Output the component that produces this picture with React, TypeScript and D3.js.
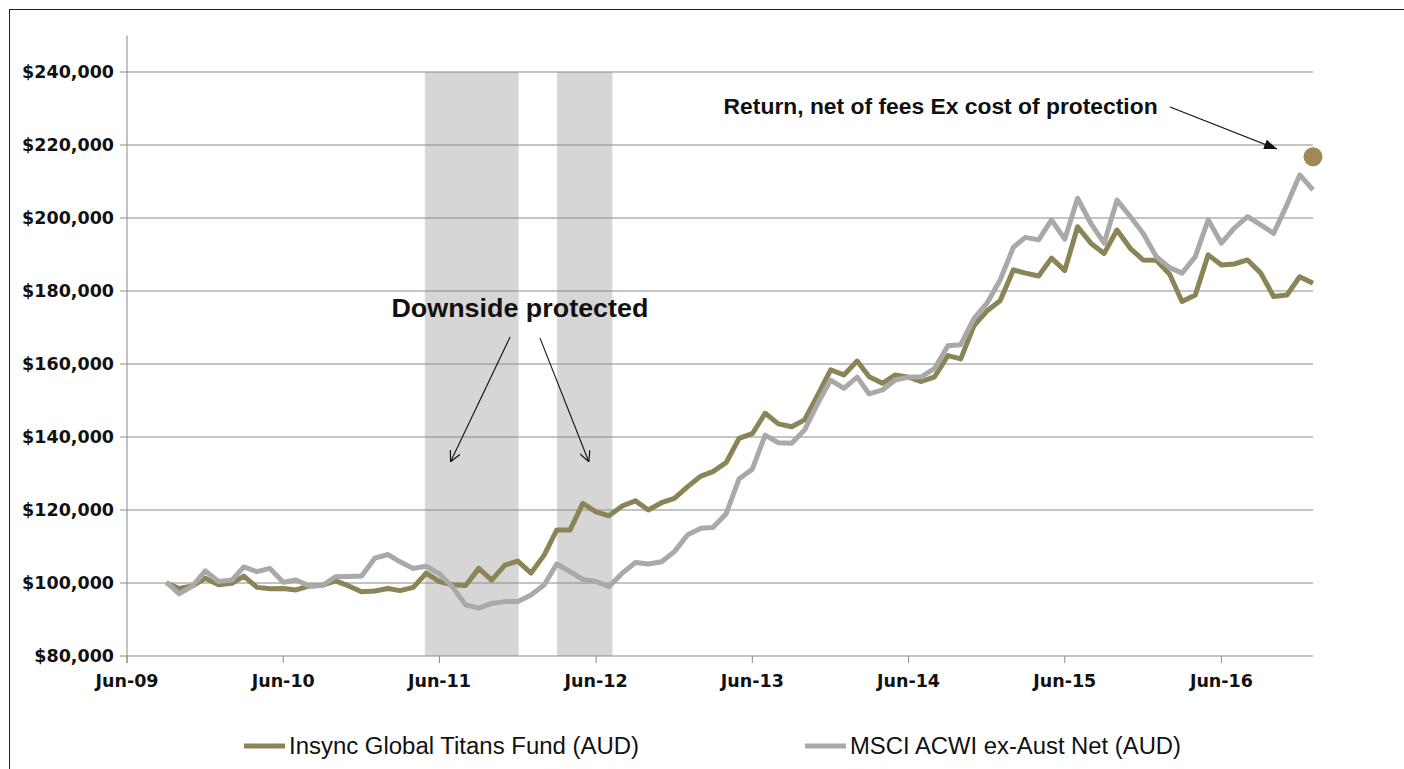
import React from "react";
import * as d3 from "d3";

// monthly values, first point Sep-09
const firstMonth = "2009-09-01";

// Insync Global Titans Fund (AUD), growth of $100,000 (in $000)
const fundValues = [
	100.0, 98.5, 99.2, 101.3, 99.5, 99.9, 101.9, 98.8, 98.4, 98.5, 98.1, 99.2, 99.4, 100.6, 99.2, 97.6,
	97.8, 98.5, 97.9, 98.8, 102.7, 100.4, 99.5, 99.3, 104.0, 100.8, 104.9, 106.0, 102.7, 107.7, 114.5,
	114.5, 121.8, 119.5, 118.4, 121.1, 122.5, 120.0, 122.0, 123.2, 126.4, 129.3, 130.5, 133.0, 139.6,
	140.9, 146.5, 143.6, 142.8, 144.7, 151.5, 158.4, 157.0, 160.8, 156.5, 154.7, 157.0, 156.4, 155.2,
	156.5, 162.3, 161.4, 170.5, 174.5, 177.3, 185.8, 184.9, 184.1, 189.0, 185.6, 197.6, 193.1, 190.3,
	196.7, 191.7, 188.5, 188.4, 184.6, 177.1, 178.9, 189.9, 187.1, 187.4, 188.5, 184.9, 178.5, 178.9,
	183.9, 182.1,
];

// MSCI ACWI ex-Aust Net (AUD) (in $000)
const msciValues = [
	100.2, 97.0, 99.2, 103.3, 100.4, 100.8, 104.4, 103.1, 104.0, 100.2, 100.8, 99.2, 99.3, 101.7, 101.8,
	101.9, 106.8, 107.8, 105.8, 104.0, 104.6, 102.5, 99.0, 94.0, 93.1, 94.4, 94.9, 94.9, 96.7, 99.5,
	105.2, 103.1, 101.0, 100.4, 99.0, 102.7, 105.6, 105.2, 105.8, 108.6, 113.2, 115.0, 115.2, 119.0,
	128.5, 131.2, 140.5, 138.4, 138.3, 141.9, 149.2, 155.6, 153.3, 156.4, 151.8, 152.9, 155.6, 156.4,
	156.5, 158.8, 165.0, 165.3, 172.5, 176.6, 183.0, 192.0, 194.7, 194.0, 199.5, 194.2, 205.4, 198.5,
	193.1, 204.9, 200.4, 195.8, 189.4, 186.4, 184.9, 189.4, 199.5, 193.1, 197.2, 200.4, 198.1, 195.8,
	203.6, 211.8, 207.7,
];

const seriesNames = ["Insync Global Titans Fund (AUD)", "MSCI ACWI ex-Aust Net (AUD)"];

// shaded "downside protected" periods
const protectedPeriods = [
	["2011-04-28", "2011-12-03"],
	["2012-03-02", "2012-07-09"],
];

// return ex cost of protection (in $000)
const exCostPoint = {date: "2017-01-01", value: 216.8};

const yTickValues = [80, 100, 120, 140, 160, 180, 200, 220, 240];
const xTickYears = [2009, 2010, 2011, 2012, 2013, 2014, 2015, 2016];

// annotation anchors in data space
const downsideLabel = {date: "2011-12-06", value: 172.8, text: "Downside protected"};
const downsideArrows = [
	{from: ["2011-11-13", 167.4], to: ["2011-06-27", 133.2]},
	{from: ["2012-01-22", 167.1], to: ["2012-05-15", 133.2]},
];
const returnLabel = {date: "2016-01-04", value: 228.6, text: "Return, net of fees Ex cost of protection"};
const returnArrow = {from: ["2016-02-02", 230.4], to: ["2016-10-09", 218.9]};

const W = 1404;
const H = 769;
const margin = {left: 127, right: 91, top: 35.5, bottom: 113};

const OLIVE = "#8a8456";
const GREY = "#a9a9a9";
const AXIS = "#8a8a8a";

const parse = (s: string) => new Date(s + "T00:00:00Z");

export default function App() {
	const start = parse(firstMonth);
	const fund = fundValues.map((v, i) => ({date: d3.utcMonth.offset(start, i), value: v}));
	const msci = msciValues.map((v, i) => ({date: d3.utcMonth.offset(start, i), value: v}));

	const x = d3
		.scaleUtc()
		.domain([parse("2009-06-01"), parse("2017-01-01")])
		.range([margin.left, W - margin.right]);
	const y = d3
		.scaleLinear()
		.domain([80, 250])
		.range([H - margin.bottom, margin.top]);

	const line = d3
		.line<{date: Date; value: number}>()
		.x((d) => x(d.date))
		.y((d) => y(d.value));

	const fmtX = d3.utcFormat("%b-%y");
	const fmtY = (v: number) => "$" + d3.format(",")(v * 1000);
	const x0 = x.range()[0];
	const x1 = x.range()[1];
	const yBottom = y(80);

	const pt = (p: any[]) => [x(parse(p[0])), y(p[1])];

	return (
		<svg
			width={W}
			height={H}
			style={{position: "absolute", left: 0, top: 0, background: "#fff"}}
			fontFamily="'DejaVu Sans', sans-serif"
		>
			<defs>
				<marker
					id="open"
					viewBox="0 0 10 10"
					refX="10"
					refY="5"
					markerWidth="11"
					markerHeight="11"
					markerUnits="userSpaceOnUse"
					orient="auto"
				>
					<path d="M0,0 L10,5 L0,10" fill="none" stroke="#111" strokeWidth="1.1" />
				</marker>
				<marker
					id="solid"
					viewBox="0 0 10 10"
					refX="10"
					refY="5"
					markerWidth="13"
					markerHeight="10"
					markerUnits="userSpaceOnUse"
					orient="auto"
					preserveAspectRatio="none"
				>
					<path d="M0,0 L10,5 L0,10 Z" fill="#111" />
				</marker>
			</defs>

			<rect x={9.5} y={9.5} width={1420} height={800} fill="none" stroke="#222" />

			{/* protected periods */}
			{protectedPeriods.map(([a, b], i) => (
				<rect
					key={i}
					x={x(parse(a))}
					y={y(240)}
					width={x(parse(b)) - x(parse(a))}
					height={yBottom - y(240)}
					fill="#d6d6d6"
				/>
			))}

			{/* gridlines + y ticks */}
			{yTickValues.map((v) => (
				<g key={v}>
					<line x1={x0 - 7} x2={x1} y1={y(v)} y2={y(v)} stroke={AXIS} strokeWidth={1} />
					<text
						x={x0 - 13}
						y={y(v)}
						dy="0.36em"
						textAnchor="end"
						fontSize={17.5}
						fontWeight="bold"
						fill="#111"
					>
						{fmtY(v)}
					</text>
				</g>
			))}

			{/* y axis */}
			<line x1={x0} x2={x0} y1={y(250)} y2={yBottom + 7} stroke={AXIS} strokeWidth={1} />

			{/* x ticks */}
			{xTickYears.map((yr) => {
				const d = new Date(Date.UTC(yr, 5, 1));
				return (
					<g key={yr}>
						<line x1={x(d)} x2={x(d)} y1={yBottom} y2={yBottom + 7} stroke={AXIS} />
						<text
							x={x(d)}
							y={yBottom + 31}
							textAnchor="middle"
							fontSize={17.5}
							fontWeight="bold"
							fill="#111"
						>
							{fmtX(d)}
						</text>
					</g>
				);
			})}

			{/* series */}
			<path d={line(fund) || ""} fill="none" stroke={OLIVE} strokeWidth={5} strokeLinejoin="round" />
			<path d={line(msci) || ""} fill="none" stroke={GREY} strokeWidth={5} strokeLinejoin="round" />

			<circle cx={x(parse(exCostPoint.date))} cy={y(exCostPoint.value)} r={9.5} fill="#9d8a56" />

			{/* annotations */}
			<text
				x={x(parse(downsideLabel.date))}
				y={y(downsideLabel.value)}
				textAnchor="middle"
				fontFamily="'Liberation Sans', sans-serif"
				fontWeight="bold"
				fontSize={26}
				textLength={257}
				lengthAdjust="spacingAndGlyphs"
				fill="#111"
			>
				{downsideLabel.text}
			</text>
			{downsideArrows.map((a, i) => {
				const [fx, fy] = pt(a.from);
				const [tx, ty] = pt(a.to);
				return <line key={i} x1={fx} y1={fy} x2={tx} y2={ty} stroke="#111" strokeWidth={1.1} markerEnd="url(#open)" />;
			})}
			<text
				x={x(parse(returnLabel.date))}
				y={y(returnLabel.value)}
				textAnchor="end"
				fontFamily="'Liberation Sans', sans-serif"
				fontWeight="bold"
				fontSize={22}
				textLength={434}
				lengthAdjust="spacingAndGlyphs"
				fill="#111"
			>
				{returnLabel.text}
			</text>
			{(() => {
				const [fx, fy] = pt(returnArrow.from);
				const [tx, ty] = pt(returnArrow.to);
				return <line x1={fx} y1={fy} x2={tx} y2={ty} stroke="#111" strokeWidth={1.2} markerEnd="url(#solid)" />;
			})()}

			{/* legend */}
			{seriesNames.map((name, i) => {
				const lx = i === 0 ? 244 : 805;
				const len = i === 0 ? 350 : 331;
				return (
					<g key={name}>
						<line x1={lx} x2={lx + 41} y1={746} y2={746} stroke={i === 0 ? OLIVE : GREY} strokeWidth={5} />
						<text
							x={lx + 45}
							y={754}
							fontFamily="'Liberation Sans', sans-serif"
							fontSize={23}
							textLength={len}
							lengthAdjust="spacingAndGlyphs"
							fill="#111"
						>
							{name}
						</text>
					</g>
				);
			})}
		</svg>
	);
}
